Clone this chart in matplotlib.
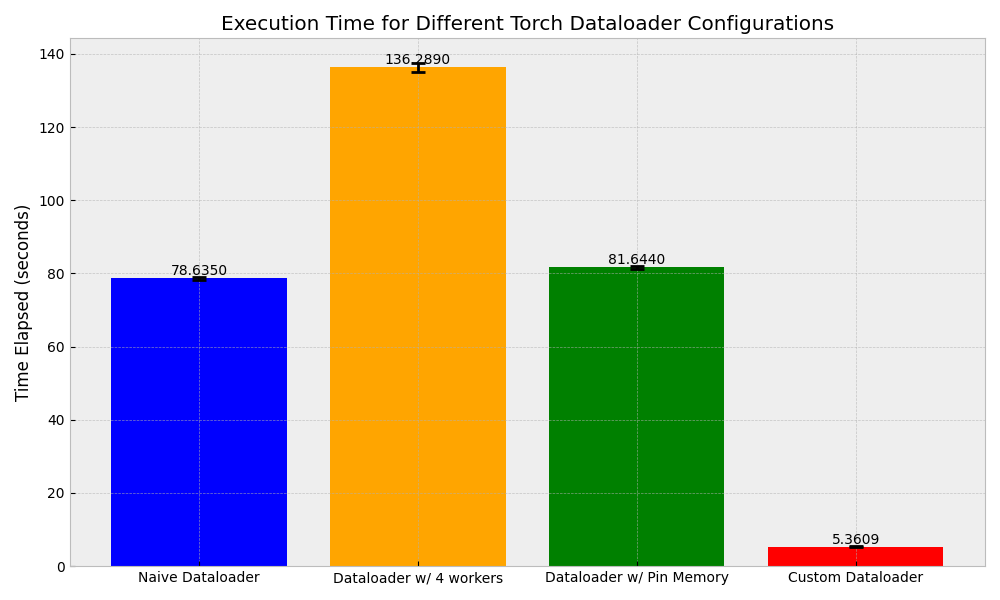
import matplotlib
matplotlib.use("Agg")
import matplotlib.pyplot as plt

plt.style.use("bmh")

labels = ["Naive Dataloader", "Dataloader w/ 4 workers", "Dataloader w/ Pin Memory", "Custom Dataloader"]
means = [78.6350, 136.2890, 81.6440, 5.3609]
errors = [0.3, 1.1, 0.3, 0.2]
colors = ["blue", "orange", "green", "red"]

fig, ax = plt.subplots(figsize=(10, 6), dpi=100)
bars = ax.bar(labels, means, yerr=errors, color=colors, capsize=5,
              error_kw=dict(ecolor="black", elinewidth=2, capthick=2))
for b, v in zip(bars, means):
    ax.text(b.get_x() + b.get_width() / 2, v, f"{v:.4f}", ha="center", va="bottom", fontsize=10)
ax.grid(True, alpha=0.7)
ax.set_title("Execution Time for Different Torch Dataloader Configurations")
ax.set_ylabel("Time Elapsed (seconds)")
plt.tight_layout()
plt.savefig("out.png")
